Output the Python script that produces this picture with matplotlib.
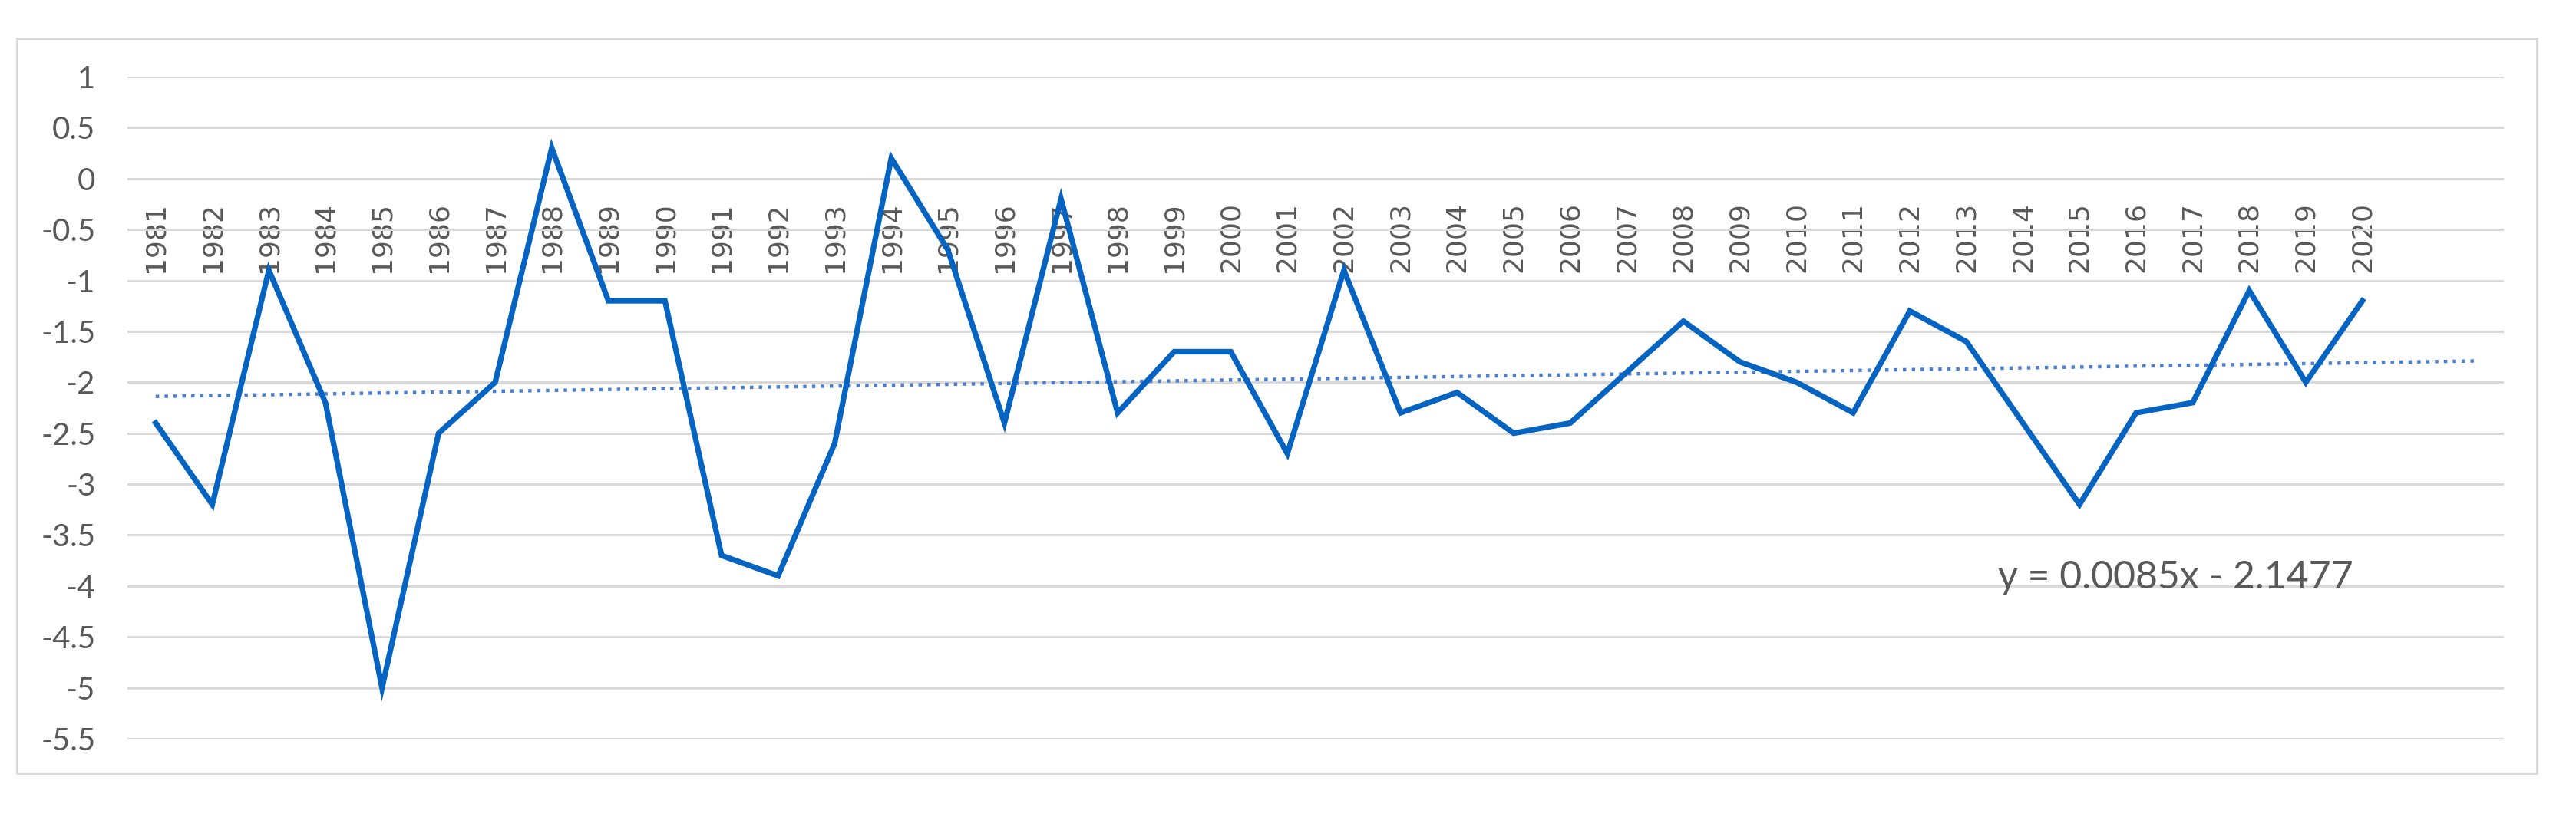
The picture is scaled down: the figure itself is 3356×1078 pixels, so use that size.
import matplotlib
matplotlib.use("Agg")
import matplotlib.pyplot as plt
from matplotlib.patches import Rectangle
import numpy as np

years = list(range(1981, 2021))
values = [-2.4, -3.2, -0.9, -2.2, -5.0, -2.5, -2.0, 0.3, -1.2, -1.2,
          -3.7, -3.9, -2.6, 0.2, -0.7, -2.4, -0.2, -2.3, -1.7, -1.7,
          -2.7, -0.9, -2.3, -2.1, -2.5, -2.4, -1.9, -1.4, -1.8, -2.0,
          -2.3, -1.3, -1.6, -2.4, -3.2, -2.3, -2.2, -1.1, -2.0, -1.2]
y_ticks = [1, 0.5, 0, -0.5, -1, -1.5, -2, -2.5, -3, -3.5, -4, -4.5, -5, -5.5]

# linear trend as printed on the chart (x = 1, 2, ... for 1981, 1982, ...)
slope = 0.0085
intercept = -2.1477
forecast = 2

fig = plt.figure(figsize=(33.56, 10.78), dpi=100)
fig.patch.set_facecolor("white")

# outer chart border
fig.patches.append(Rectangle((22 / 3356, 1 - 1008 / 1078), (3305 - 22) / 3356, (1008 - 50) / 1078,
                             transform=fig.transFigure, fill=False,
                             edgecolor="#d9d9d9", linewidth=2.2))

ax = fig.add_axes([166 / 3356, 1 - 963 / 1078, (3262 - 166) / 3356, (963 - 100) / 1078])

# category labels sit under the zero line, like Excel does
ax.spines["bottom"].set_position(("data", 0))
for side in ["top", "right", "left", "bottom"]:
    ax.spines[side].set_color("none")

x = np.arange(len(years))
ax.plot(x, values, color="#0563C1", linewidth=5.2, solid_joinstyle="miter", zorder=3)

tx = np.array([0, len(years) - 1 + forecast])
ax.plot(tx, slope * (tx + 1) + intercept, color="#4A7FD4", linewidth=3.2,
        linestyle=(0, (1, 1.6)), zorder=2)

ax.set_xlim(-0.5, len(years) - 0.5 + forecast)
ax.set_ylim(-5.5, 1)
ax.set_yticks(y_ticks)
ax.set_yticklabels([f"{v:g}" for v in y_ticks], family="Lato", fontsize=29, color="#595959")
ax.grid(axis="y", color="#d9d9d9", linewidth=2.2)
ax.set_axisbelow(True)

ax.set_xticks(x)
ax.set_xticklabels([str(y) for y in years], rotation=90, family="DejaVu Sans",
                   fontsize=26, color="#595959")
ax.tick_params(axis="x", length=0, pad=22)
ax.tick_params(axis="y", length=0, pad=30)

ax.text(35.7, -3.92, f"y = {slope}x - {abs(intercept)}", family="Lato", fontsize=36,
        color="#595959", ha="center", va="center")

fig.savefig("out.png", dpi=100, facecolor="white")
